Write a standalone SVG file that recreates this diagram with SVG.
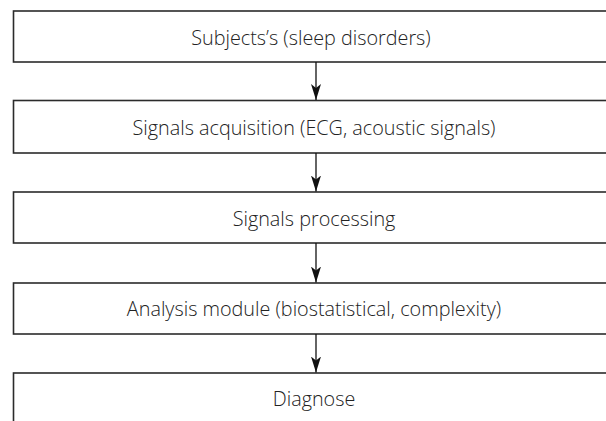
<svg xmlns="http://www.w3.org/2000/svg" width="606" height="421" viewBox="0 0 606 421">
<defs>
<marker id="ah" viewBox="0 0 16 10" refX="16" refY="5" markerWidth="16" markerHeight="10" markerUnits="userSpaceOnUse" orient="auto">
<path d="M0,0 L16,5 L0,10 L4,5 Z" fill="#111"/>
</marker>
<style>
.box{fill:#fff;stroke:#2b2b2b;stroke-width:1.6}
.lbl{font-family:"Open Sans","Noto Sans","Liberation Sans",sans-serif;font-size:19.8px;font-weight:300;fill:#222;text-anchor:middle;dominant-baseline:central}
.con{stroke:#111;stroke-width:1.3;fill:none}
</style>
</defs>
<rect width="606" height="421" fill="#fff"/>
<g id="n1"><rect class="box" x="13.5" y="11" width="605" height="51"/><text class="lbl" x="311" y="37">Subjects’s (sleep disorders)</text></g>
<g id="n2"><rect class="box" x="13.5" y="100.5" width="605" height="52.5"/><text class="lbl" x="314" y="127">Signals acquisition (ECG, acoustic signals)</text></g>
<g id="n3"><rect class="box" x="13.5" y="192" width="605" height="51"/><text class="lbl" x="314" y="218">Signals processing</text></g>
<g id="n4"><rect class="box" x="13.5" y="283" width="605" height="51"/><text class="lbl" x="314" y="308">Analysis module (biostatistical, complexity)</text></g>
<g id="n5"><rect class="box" x="13.5" y="373" width="605" height="60"/><text class="lbl" x="314" y="398">Diagnose</text></g>
<g id="connectors">
<line class="con" x1="316" y1="62" x2="316" y2="100" marker-end="url(#ah)"/>
<line class="con" x1="316" y1="153" x2="316" y2="191.5" marker-end="url(#ah)"/>
<line class="con" x1="316" y1="243" x2="316" y2="282.5" marker-end="url(#ah)"/>
<line class="con" x1="316" y1="334" x2="316" y2="372.5" marker-end="url(#ah)"/>
</g>
</svg>
